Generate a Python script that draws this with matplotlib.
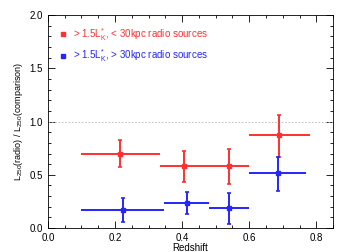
import numpy as np
import matplotlib
matplotlib.use('Agg')
from matplotlib import pyplot as plt
from matplotlib.ticker import MultipleLocator

plt.rcParams['font.family'] = ['Liberation Sans', 'DejaVu Sans']
plt.rcParams['mathtext.fontset'] = 'custom'
plt.rcParams['mathtext.rm'] = 'Liberation Sans'
plt.rcParams['mathtext.it'] = 'Liberation Sans'

# Compact radio sources (< 30kpc)
z_small = [0.215, 0.405, 0.54, 0.69]
z_small_lo = [0.10, 0.335, 0.48, 0.60]
z_small_hi = [0.335, 0.48, 0.60, 0.78]
ratio_small = [0.70, 0.58, 0.58, 0.87]
ratio_small_lo = [0.57, 0.43, 0.41, 0.67]
ratio_small_hi = [0.83, 0.72, 0.74, 1.06]

# Extended radio sources (> 30kpc)
z_large = [0.225, 0.415, 0.54, 0.685]
z_large_lo = [0.10, 0.345, 0.48, 0.60]
z_large_hi = [0.345, 0.48, 0.60, 0.77]
ratio_large = [0.17, 0.24, 0.19, 0.52]
ratio_large_lo = [0.06, 0.13, 0.04, 0.35]
ratio_large_hi = [0.28, 0.34, 0.33, 0.67]

labels = [r'> 1.5L$_{K}^{*}$, < 30kpc radio sources',
          r'> 1.5L$_{K}^{*}$, > 30kpc radio sources']
colors = ['#ff3030', '#2525ff']


def errs(c, lo, hi):
    c = np.array(c)
    return [c - np.array(lo), np.array(hi) - c]


fig = plt.figure(figsize=(3.47, 2.52), dpi=100)
ax = fig.add_axes([0.138, 0.095, 0.822, 0.845])

ax.axhline(1.0, color='#b8b8b8', lw=0.6, ls=(0, (2, 2)))

for z, zlo, zhi, r, rlo, rhi, col in [
        (z_small, z_small_lo, z_small_hi, ratio_small, ratio_small_lo, ratio_small_hi, colors[0]),
        (z_large, z_large_lo, z_large_hi, ratio_large, ratio_large_lo, ratio_large_hi, colors[1])]:
    # horizontal bins, no caps
    ax.errorbar(z, r, xerr=errs(z, zlo, zhi), fmt='none', ecolor=col, elinewidth=1.4, capsize=0)
    # vertical errors with small caps
    ax.errorbar(z, r, yerr=errs(r, rlo, rhi), fmt='s', color=col, ms=3.2,
                elinewidth=1.4, capsize=1.5, capthick=1.2)

# legend as text
for i, (lab, col) in enumerate(zip(labels, colors)):
    yy = 1.82 - i * 0.2
    ax.plot([0.045], [yy], 's', color=col, ms=3)
    ax.text(0.075, yy, lab, color=col, fontsize=7, va='center')

ax.set_xlim(0, 0.85)
ax.set_ylim(0, 2.0)
ax.xaxis.set_major_locator(MultipleLocator(0.2))
ax.xaxis.set_minor_locator(MultipleLocator(0.05))
ax.yaxis.set_major_locator(MultipleLocator(0.5))
ax.yaxis.set_minor_locator(MultipleLocator(0.1))
ax.tick_params(which='both', direction='in', top=True, right=True, labelsize=7, width=0.6)
ax.tick_params(which='major', length=5)
ax.tick_params(which='minor', length=2.5)
for s in ax.spines.values():
    s.set_linewidth(0.6)

ax.set_xlabel('Redshift', fontsize=7, labelpad=0)
ax.set_ylabel(r'L$_{250}$(radio) / L$_{250}$(comparison)', fontsize=6.5, labelpad=3)

fig.savefig('out.png', dpi=100)
